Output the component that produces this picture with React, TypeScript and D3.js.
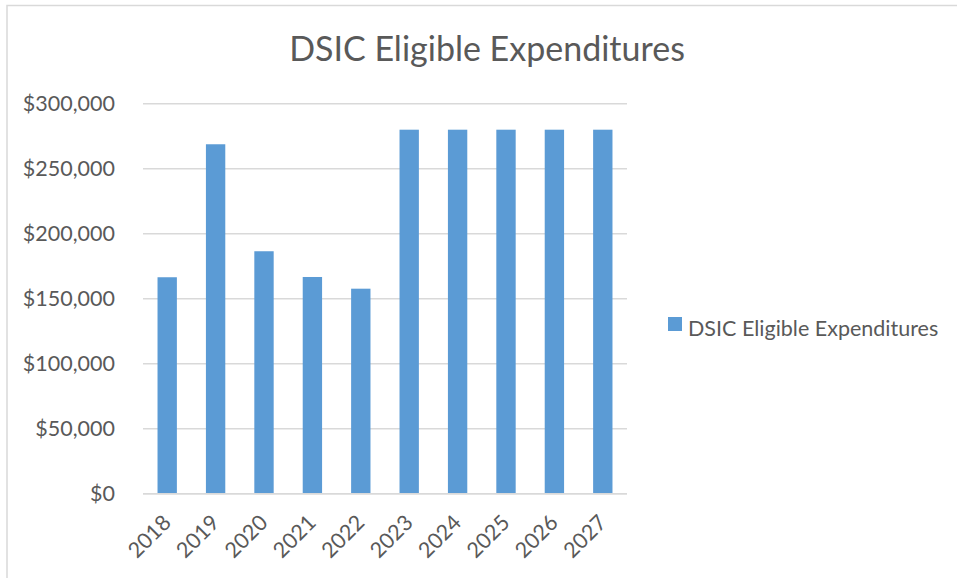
import React from "react";
import * as d3 from "d3";

const years = ["2018", "2019", "2020", "2021", "2022", "2023", "2024", "2025", "2026", "2027"];
const expenditures = [166500, 268800, 186500, 166700, 157700, 280000, 280000, 280000, 280000, 280000];
const yTicks = [0, 50000, 100000, 150000, 200000, 250000, 300000];
const seriesName = "DSIC Eligible Expenditures";
const title = "DSIC Eligible Expenditures";

const W = 957;
const H = 578;
const FONT = "Lato, 'Open Sans', sans-serif";
const TEXT = "#595959";
const GRID = "#d9d9d9";
const BAR = "#5b9bd5";

export default function App() {
  const x = d3.scaleBand<string>().domain(years).range([143, 627]).paddingInner(0.6).paddingOuter(0.3);
  const y = d3.scaleLinear().domain([0, 300000]).range([493.7, 103.7]);
  const fmt = (v: number) => "$" + d3.format(",")(v);

  return (
    <svg width={W} height={H} style={{ position: "absolute", left: 0, top: 0, background: "#fff" }} fontFamily={FONT}>
      <rect x={0} y={0} width={W} height={H} fill="#fff" />
      <rect x={7} y={5.5} width={W + 20} height={H + 20} fill="none" stroke={GRID} strokeWidth={1.5} />
      <text x={487} y={61} textAnchor="middle" fontSize={34} fill={TEXT}>{title}</text>
      {yTicks.map((t) => (
        <g key={t}>
          <line x1={143} x2={627} y1={y(t)} y2={y(t)} stroke={GRID} strokeWidth={1.5} />
          <text x={115} y={y(t)} dy="0.35em" textAnchor="end" fontSize={21.5} fill={TEXT}>{fmt(t)}</text>
        </g>
      ))}
      {years.map((yr, i) => (
        <rect key={yr} x={x(yr)} y={y(expenditures[i])} width={x.bandwidth()} height={y(0) - y(expenditures[i])} fill={BAR} />
      ))}
      <line x1={143} x2={627} y1={y(0)} y2={y(0)} stroke={GRID} strokeWidth={1.5} />
      {years.map((yr) => {
        const cx = (x(yr) as number) + x.bandwidth() / 2;
        return (
          <text key={yr} transform={`translate(${cx + 5},${524}) rotate(-45)`} textAnchor="end" fontSize={21.5} fill={TEXT}>{yr}</text>
        );
      })}
      <rect x={668} y={317} width={14} height={14} fill={BAR} />
      <text x={688} y={336} fontSize={21.5} fill={TEXT}>{seriesName}</text>
    </svg>
  );
}
